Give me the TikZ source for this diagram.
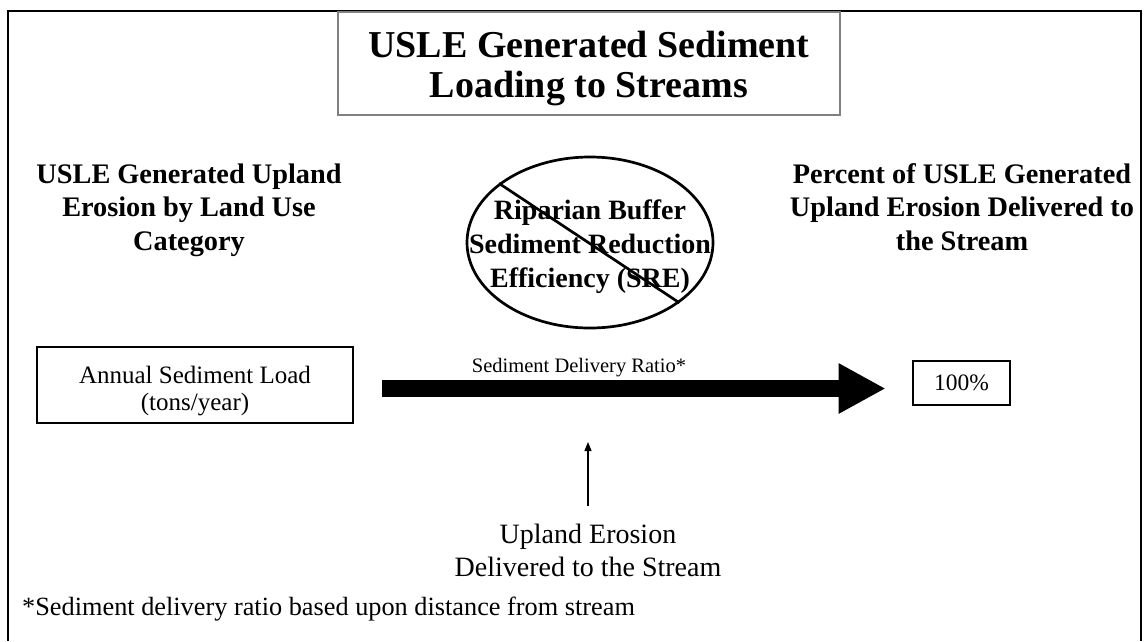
\documentclass[tikz,border=0pt]{standalone}
\usepackage{fontspec}
\setmainfont{Liberation Serif}
\usetikzlibrary{shapes.geometric,arrows.meta}

\tikzset{
  heading/.style={font=\bfseries\fontsize{28.3}{33.5}\selectfont, align=center, anchor=base},
  thickbox/.style={draw, line width=2.7pt, align=center},
  bigarrow/.style={line width=17pt, -{Triangle[length=47pt,width=47pt]}},
}

\begin{document}
\begin{tikzpicture}[x=1pt,y=-1pt]
\useasboundingbox (0,0) rectangle (1145,641);
% frame, open at the bottom
\draw[line width=2.7pt] (8,641) -- (8,11) -- (1141,11) -- (1141,641);

% title
\node[draw=gray, line width=1.2pt, minimum width=502pt, minimum height=103pt,
      inner sep=0pt, align=center, font=\bfseries\fontsize{38}{40}\selectfont]
      (title) at (589,63.5) {\rule{0pt}{37pt}USLE Generated Sediment\\Loading to Streams};

% headings (base = last line)
\node[heading] (upland) at (189,250) {USLE Generated Upland\\Erosion by Land Use\\Category};
\node[heading] (percent) at (962,250) {Percent of USLE Generated\\Upland Erosion Delivered to\\the Stream};

% crossed out buffer
\node[ellipse, draw, line width=2.7pt, minimum width=246pt, minimum height=171pt] (sre) at (590,242.5) {};
\node[align=center, font=\bfseries\fontsize{28}{34}\selectfont, yshift=-4pt] (sretext) at (sre.center) {Riparian Buffer\\Sediment Reduction\\Efficiency (SRE)};
\draw[line width=2.7pt] (sre.147) -- (sre.-34);

% load, ratio and result
\node[thickbox, minimum width=316pt, minimum height=76pt, font=\fontsize{25}{27}\selectfont]
      (annual) at (195,385) {\rule{0pt}{30pt}Annual Sediment Load\\(tons/year)};
\node[thickbox, minimum width=97pt, minimum height=44pt, font=\fontsize{23.5}{24}\selectfont]
      (pct) at (961.5,383) {100\%};
\draw[bigarrow, shorten <=28pt, shorten >=26pt] ([yshift=-3.5pt]annual.east) -- ([yshift=-5.5pt]pct.west);
\node[font=\fontsize{20.5}{22}\selectfont, anchor=base] (sdr) at (579,372) {Sediment Delivery Ratio*};

\node[font=\fontsize{28}{33}\selectfont, align=center, anchor=base] (deliv) at (588,576) {Upland Erosion\\Delivered to the Stream};
\coordinate (sdrtip) at (588,442);
\draw[line width=1.3pt, -{Triangle[length=9pt,width=7pt]}, shorten <=14pt] (deliv.north) -- (sdrtip);

\node[font=\fontsize{26.3}{28}\selectfont, anchor=base west, inner sep=0pt] (note) at (22,615)
      {*Sediment delivery ratio based upon distance from stream};
\end{tikzpicture}
\end{document}
